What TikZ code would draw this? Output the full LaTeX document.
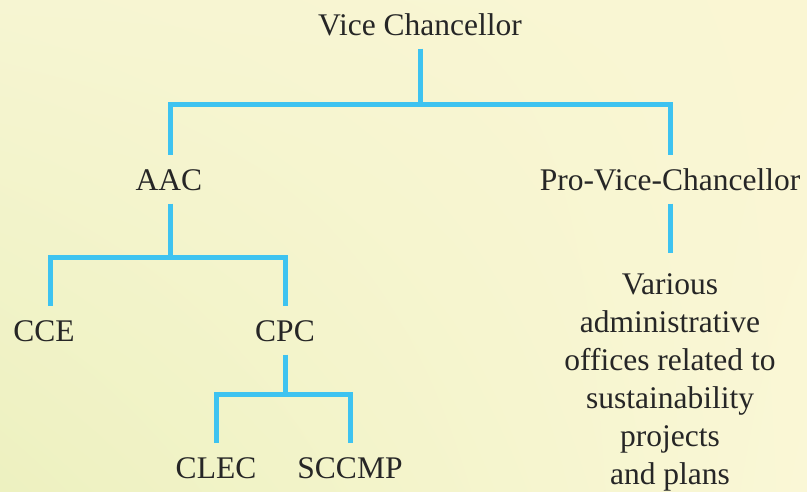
\documentclass[tikz,border=0pt]{standalone}
\usepackage{fontspec}
\setmainfont{Liberation Serif}
\usetikzlibrary{shadings}

\definecolor{linkblue}{HTML}{3EC3F0}
\definecolor{paperUL}{HTML}{F6F5D2}
\definecolor{paperUR}{HTML}{FAF6D3}
\definecolor{paperLL}{HTML}{EDF1C0}
\definecolor{paperLR}{HTML}{FAF7D6}

\tikzset{
  unittext/.style={font=\fontsize{31.5}{38}\selectfont, text=black!85, inner xsep=2pt},
  unit/.style={unittext, anchor=base, text height=21.5pt, text depth=0pt, inner ysep=13.5pt},
  link/.style={draw=linkblue, line width=5pt}
}

\begin{document}
\begin{tikzpicture}[x=1pt,y=-1pt]

    % background
    \shade[upper left=paperUL, upper right=paperUR, lower left=paperLL, lower right=paperLR]
      (0,0) rectangle (807,491);
    \useasboundingbox (0,0) rectangle (807,491);

    % units
    \node[unit] (vc) at (420,35) {Vice Chancellor};
    \node[unit] (aac) at (169,190) {AAC};
    \node[unit] (pvc) at (670,190) {Pro-Vice-Chancellor};
    \node[unit] (cce) at (44,341) {CCE};
    \node[unit] (cpc) at (285,341) {CPC};
    \node[unit] (clec) at (216,478) {CLEC};
    \node[unit] (sccmp) at (350,478) {SCCMP};
    \node[unittext, anchor=north, align=center, inner ysep=20.5pt] (offices) at (670,253)
      {Various\\administrative\\offices related to\\sustainability\\projects\\and plans};

    % bus points
    \coordinate (bus1) at (420,104);
    \coordinate (bus2) at (170.5,257);
    \coordinate (bus3) at (285,394);

    % connectors
    \draw[link] (vc.south) -- (bus1);
    \draw[link] ([xshift=1.5pt]aac.north) |- (bus1) -| (pvc.north);
    \draw[link] ([xshift=1.5pt]aac.south) -- (bus2);
    \draw[link] ([xshift=6pt]cce.north) |- (bus2) -| (cpc.north);
    \draw[link] (cpc.south) -- (bus3);
    \draw[link] (clec.north) |- (bus3) -| (sccmp.north);
    \draw[link] (pvc.south) -- (offices.north);

\end{tikzpicture}
\end{document}
